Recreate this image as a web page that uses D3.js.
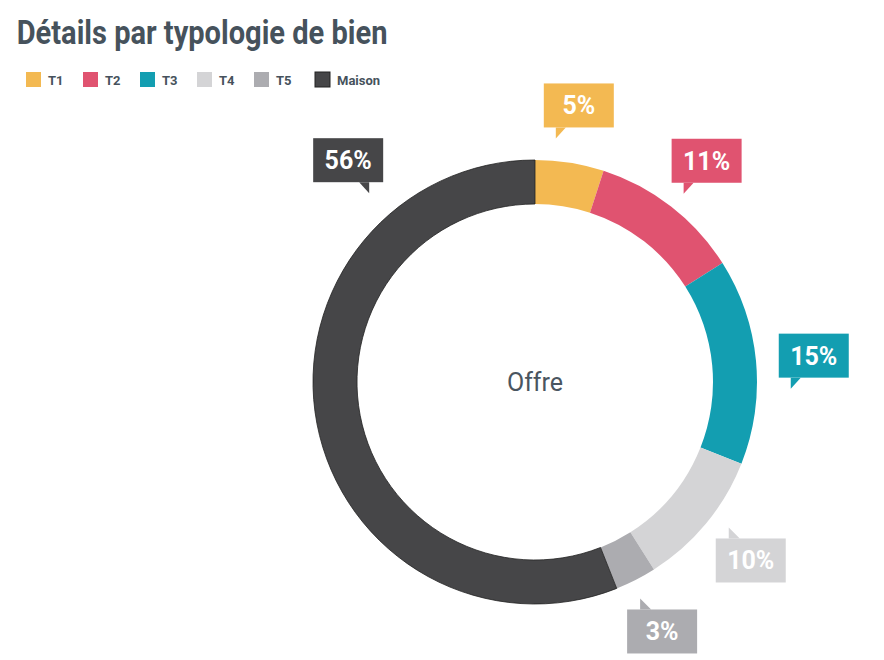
<!DOCTYPE html>
<html><head><meta charset="utf-8">
<script src="https://cdn.jsdelivr.net/npm/d3@7"></script>
<style>body{margin:0;background:#fff;font-family:Roboto,sans-serif}</style>
</head><body><svg id="c" width="884" height="660"></svg>
<script>
var categories = ["T1","T2","T3","T4","T5","Maison"]
var values = [5,11,15,10,3,56]
var colors = ["#f3b952","#e05370","#139eb1","#d4d4d6","#acacb0","#464648"]
var labelColors = ["#fff","#fff","#fff","#fff","#fff","#fff"]

var svg = d3.select("#c")
svg.append("text").attr("x",19).attr("y",44).attr("font-size",33).attr("font-weight",700)
  .attr("fill","#46525c").attr("transform","scale(0.88,1)").text("Détails par typologie de bien")

var leg = svg.selectAll(".leg").data(categories).enter().append("g")
  .attr("transform",function(d,i){ return "translate(" + [26,83,140,197,254,315][i] + ",72)" })
leg.append("rect").attr("width",15).attr("height",15).attr("fill",function(d,i){return colors[i]})
  .attr("stroke",function(d,i){return i==5?"#222":"none"})
leg.append("text").attr("x",22).attr("y",13).attr("font-size",13).attr("font-weight",700)
  .attr("fill","#46525c").text(function(d){return d})

var cx = 535, cy = 382
var g = svg.append("g").attr("transform","translate(" + cx + "," + cy + ")")
var pie = d3.pie().sort(null).value(function(d){return d})
var arcs = pie(values)
var arc = d3.arc().innerRadius(178).outerRadius(222)
g.selectAll("path").data(arcs).enter().append("path").attr("d",arc)
  .attr("fill",function(d,i){return colors[i]})
  .attr("stroke",function(d,i){return i==5?"#222":"none"}).attr("stroke-width",0.8)

g.append("text").attr("text-anchor","middle").attr("y",9).attr("font-size",25)
  .attr("fill","#4a5560").text("Offre")

var bw = 70, bh = 44
arcs.forEach(function(d,i){
  var a = (d.startAngle + d.endAngle)/2
  var r = 280
  if (d.endAngle - d.startAngle > Math.PI) { a = -0.7; r = 290 }
  var x = Math.sin(a)*r, y = -Math.cos(a)*r
  var l = x - bw/2, t = y - bh/2
  var lg = g.append("g")
  lg.append("rect").attr("x",l).attr("y",t).attr("width",bw).attr("height",bh).attr("fill",colors[i])
  var p
  if (y < 0) {
    if (x >= 0) p = [[l+12,t+bh],[l+22,t+bh],[l+12,t+bh+11]]
    else p = [[l+bw-14,t+bh],[l+bw-24,t+bh],[l+bw-14,t+bh+11]]
  } else {
    p = [[l+13,t],[l+24,t],[l+13,t-11]]
  }
  lg.append("path").attr("d","M" + p.join("L") + "Z").attr("fill",colors[i])
  lg.append("text").attr("x",x).attr("y",y+9).attr("text-anchor","middle").attr("font-size",25)
    .attr("font-weight",700).attr("fill",labelColors[i]).text(values[i] + "%")
})
</script></body></html>
